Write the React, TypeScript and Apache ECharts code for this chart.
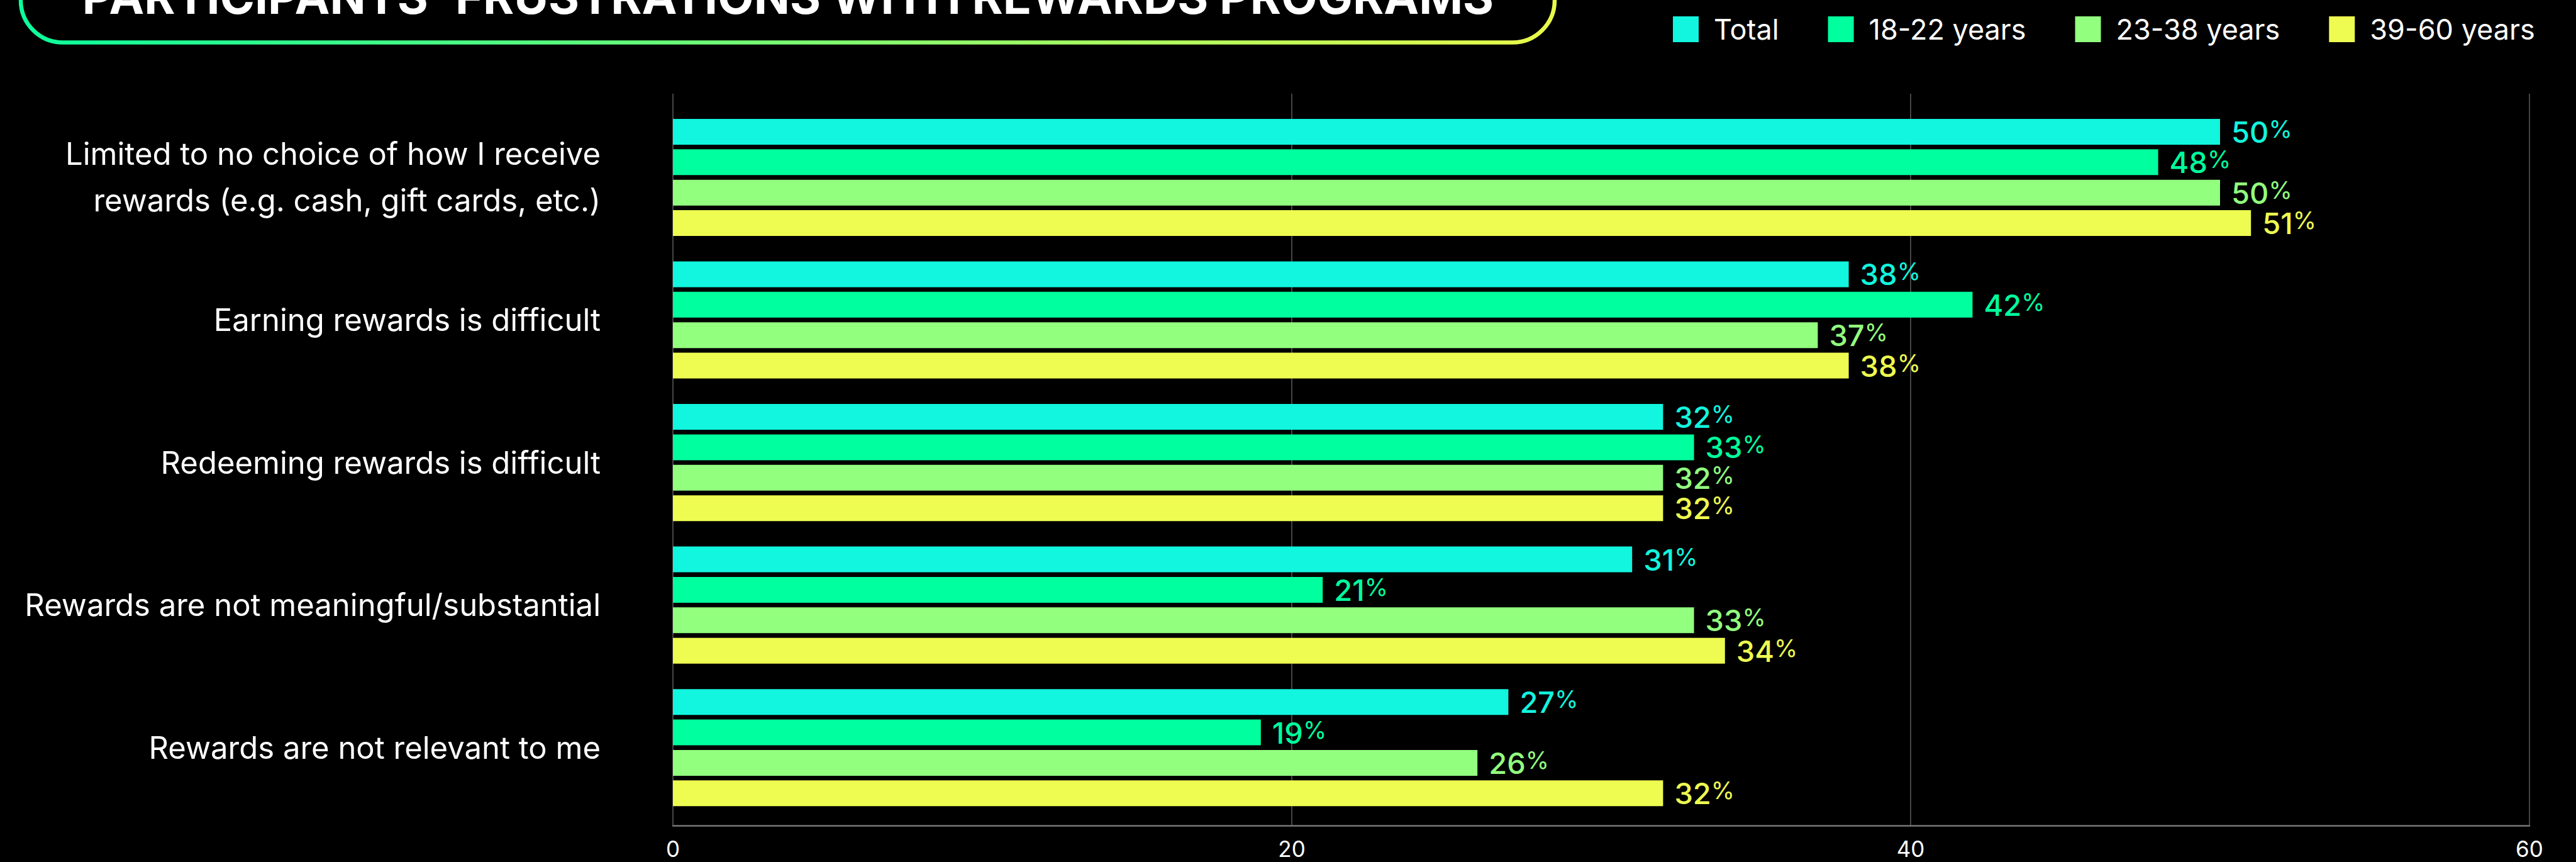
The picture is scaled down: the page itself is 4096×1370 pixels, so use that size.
import React, { useEffect, useRef } from "react";
import * as echarts from "echarts";

const categories = [
  "Limited to no choice of how I receive\nrewards (e.g. cash, gift cards, etc.)",
  "Earning rewards is difficult",
  "Redeeming rewards is difficult",
  "Rewards are not meaningful/substantial",
  "Rewards are not relevant to me",
];
const seriesNames = ["Total", "18-22 years", "23-38 years", "39-60 years"];
const totalValues = [50, 38, 32, 31, 27];
const age18to22Values = [48, 42, 33, 21, 19];
const age23to38Values = [50, 37, 32, 33, 26];
const age39to60Values = [51, 38, 32, 34, 32];
const xTickMin = 0;
const xTickMax = 60;
const xTickStep = 20;
const colors = ["#12F5DE", "#00FF9E", "#93FF7F", "#EEFB50"];
const titleText = "PARTICIPANTS' FRUSTRATIONS WITH REWARDS PROGRAMS";

const FONT = "Inter";

export default function App() {
  const ref = useRef<HTMLDivElement>(null);
  useEffect(() => {
    if (!ref.current) return;
    const chart = echarts.init(ref.current, null, { renderer: "svg" });
    const allValues = [totalValues, age18to22Values, age23to38Values, age39to60Values];
    const series = seriesNames.map((name, i) => ({
      name,
      type: "bar",
      xAxisIndex: 0,
      yAxisIndex: 0,
      data: allValues[i],
      barWidth: 41,
      barGap: "18%",
      itemStyle: { color: colors[i] },
      label: {
        show: true,
        position: "right",
        distance: 18,
        formatter: (p: any) => `{v|${p.value}}{p|%}`,
        rich: {
          v: { fontSize: 47, fontWeight: 500, color: colors[i], fontFamily: FONT },
          p: { fontSize: 38, fontWeight: 400, color: colors[i], fontFamily: FONT, verticalAlign: "top" },
        },
      },
    }));
    const option: any = {
      animation: false,
      backgroundColor: "#000000",
      grid: [
        { left: 1070, width: 2952, top: 168.7, height: 1132.8, containLabel: false },
        { left: 1070, width: 2952, top: 149, height: 1162.8, containLabel: false },
      ],
      legend: {
        data: seriesNames,
        left: 2655,
        top: 19,
        itemWidth: 41,
        itemHeight: 41,
        itemGap: 78,
        icon: "rect",
        textStyle: { color: "#ffffff", fontSize: 45, fontFamily: FONT, padding: [0, 0, 0, 19] },
      },
      xAxis: [
        { gridIndex: 0, type: "value", min: xTickMin, max: xTickMax, interval: xTickStep, show: false },
        {
          gridIndex: 1,
          type: "value",
          min: xTickMin,
          max: xTickMax,
          interval: xTickStep,
          axisLine: { show: true, lineStyle: { color: "#777777", width: 2.5 } },
          axisTick: { show: false },
          axisLabel: { color: "#ffffff", fontSize: 35, margin: 20, fontFamily: FONT },
          splitLine: { show: true, lineStyle: { color: "#5e5e5e", width: 1.5 } },
        },
      ],
      yAxis: [
        {
          gridIndex: 0,
          type: "category",
          data: categories,
          inverse: true,
          axisLine: { show: false },
          axisTick: { show: false },
          splitLine: { show: false },
          axisLabel: {
            color: "#ffffff",
            fontSize: 49,
            lineHeight: 74,
            margin: 115,
            fontFamily: FONT,
            align: "right",
          },
        },
        { gridIndex: 1, type: "category", data: categories, show: false },
      ],
      graphic: [
        {
          type: "rect",
          shape: { x: 33, y: -100, width: 2439, height: 167.5, r: 67 },
          style: {
            fill: "transparent",
            lineWidth: 6.5,
            stroke: new echarts.graphic.LinearGradient(0, 0, 1, 0, [
              { offset: 0, color: "#0BFF9C" },
              { offset: 1, color: "#E9F94A" },
            ]),
          },
        },
        {
          type: "text",
          x: 1253,
          y: -6,
          style: {
            text: titleText,
            fill: "#ffffff",
            fontSize: 75,
            fontWeight: "bold",
            fontFamily: FONT,
            align: "center",
            verticalAlign: "middle",
          },
        },
      ],
      series,
    };
    chart.setOption(option);
    return () => chart.dispose();
  }, []);
  return (
    <div
      ref={ref}
      style={{ position: "fixed", left: 0, top: 0, width: 4096, height: 1370, background: "#000" }}
    />
  );
}
